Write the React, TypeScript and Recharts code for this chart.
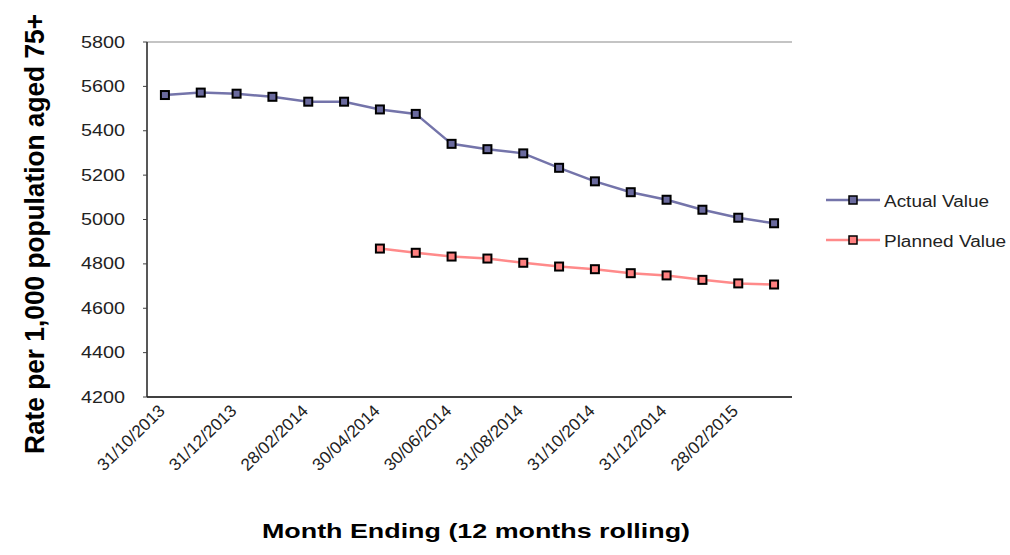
import { LineChart, Line, XAxis, YAxis, CartesianGrid, Legend } from "recharts";

const months = [
  "31/10/2013", "30/11/2013", "31/12/2013", "31/01/2014", "28/02/2014", "31/03/2014",
  "30/04/2014", "31/05/2014", "30/06/2014", "31/07/2014", "31/08/2014", "30/09/2014",
  "31/10/2014", "30/11/2014", "31/12/2014", "31/01/2015", "28/02/2015", "31/03/2015",
];

const actualValue = [
  5561, 5572, 5567, 5553, 5531, 5531, 5496, 5476, 5341, 5317, 5298, 5233,
  5172, 5123, 5089, 5044, 5008, 4983,
];

const plannedValue: (number | null)[] = [
  null, null, null, null, null, null,
  4869, 4850, 4833, 4824, 4805, 4788, 4776, 4758, 4748, 4728, 4712, 4707,
];

const yTicks = [4200, 4400, 4600, 4800, 5000, 5200, 5400, 5600, 5800];

const legendItems = [
  { name: "Actual Value", line: "#7474aa", fill: "#6a6a9e", width: 105 },
  { name: "Planned Value", line: "#ff8a8a", fill: "#ff8080", width: 122 },
];

const data = months.map((m, i) => ({
  month: m,
  actual: actualValue[i],
  planned: plannedValue[i],
}));

const FONT = "'Liberation Sans', Arial, sans-serif";

function squareDot(fill: string) {
  return (props: any) => {
    const { cx, cy, index, value } = props;
    if (value == null || cy == null || isNaN(cy)) return <g key={index} />;
    return (
      <rect
        key={index}
        x={cx - 4}
        y={cy - 4}
        width={8}
        height={8}
        fill={fill}
        stroke="#000"
        strokeWidth={2}
      />
    );
  };
}

function YTick({ x, y, payload }: any) {
  return (
    <text
      x={x}
      y={y + 5.5}
      textAnchor="end"
      fontFamily={FONT}
      fontSize={16}
      fill="#222"
      textLength={44}
      lengthAdjust="spacingAndGlyphs"
    >
      {payload.value}
    </text>
  );
}

function XTick({ x, y, payload }: any) {
  return (
    <text
      transform={`translate(${x + 1},${y}) rotate(-44)`}
      textAnchor="end"
      fontFamily={FONT}
      fontSize={17}
      fill="#222"
      textLength={86}
      lengthAdjust="spacingAndGlyphs"
    >
      {payload.value}
    </text>
  );
}

function LegendBox() {
  return (
    <svg width={190} height={80}>
      {legendItems.map((it, i) => {
        const cy = 20 + i * 40;
        return (
          <g key={it.name}>
            <line x1={6} x2={60} y1={cy} y2={cy} stroke={it.line} strokeWidth={2.5} />
            <rect x={29} y={cy - 4} width={8} height={8} fill={it.fill} stroke="#000" strokeWidth={1.5} />
            <text
              x={64}
              y={cy + 7}
              fontFamily={FONT}
              fontSize={16}
              fill="#222"
              textLength={it.width}
              lengthAdjust="spacingAndGlyphs"
            >
              {it.name}
            </text>
          </g>
        );
      })}
    </svg>
  );
}

export default function App() {
  return (
    <div style={{ position: "absolute", left: 0, top: 0, background: "#fff" }}>
      <LineChart
        width={1010}
        height={555}
        data={data}
        margin={{ top: 42, right: 218, bottom: 0, left: 0 }}
      >
        <CartesianGrid vertical={false} stroke="#c4c4c4" strokeWidth={2} />
        <XAxis
          dataKey="month"
          scale="band"
          interval={1}
          height={158}
          tick={<XTick />}
          tickLine={false}
          tickSize={0}
          tickMargin={15}
          axisLine={{ stroke: "#404040", strokeWidth: 2 }}
          label={() => (
            <text
              x={476}
              y={538}
              textAnchor="middle"
              fontFamily={FONT}
              fontWeight="bold"
              fontSize={21}
              fill="#000"
              textLength={428}
              lengthAdjust="spacingAndGlyphs"
            >
              Month Ending (12 months rolling)
            </text>
          )}
        />
        <YAxis
          yAxisId="left"
          width={147}
          domain={[4200, 5800]}
          ticks={yTicks}
          interval={0}
          tick={<YTick />}
          tickSize={4}
          tickMargin={18}
          tickLine={{ stroke: "#404040" }}
          axisLine={{ stroke: "#202020", strokeWidth: 1.5 }}
          label={() => (
            <text
              transform="translate(44,234) rotate(-90)"
              textAnchor="middle"
              fontFamily={FONT}
              fontWeight="bold"
              fontSize={27}
              fill="#000"
              textLength={440}
              lengthAdjust="spacingAndGlyphs"
            >
              Rate per 1,000 population aged 75+
            </text>
          )}
        />
        <YAxis
          yAxisId="right"
          orientation="right"
          width={0}
          domain={[4200, 5800]}
          tick={false}
          tickLine={false}
          axisLine={{ stroke: "#bdbdbd", strokeWidth: 2 }}
        />
        <Legend
          layout="vertical"
          align="center"
          verticalAlign="middle"
          wrapperStyle={{ left: 820, top: 180, width: 190 }}
          content={() => <LegendBox />}
        />
        <Line
          yAxisId="left"
          dataKey="actual"
          name="Actual Value"
          stroke="#7474aa"
          strokeWidth={2.5}
          dot={squareDot("#6a6a9e")}
          activeDot={false}
          isAnimationActive={false}
        />
        <Line
          yAxisId="left"
          dataKey="planned"
          name="Planned Value"
          stroke="#ff8a8a"
          strokeWidth={2.5}
          dot={squareDot("#ff8080")}
          activeDot={false}
          isAnimationActive={false}
        />
      </LineChart>
    </div>
  );
}
